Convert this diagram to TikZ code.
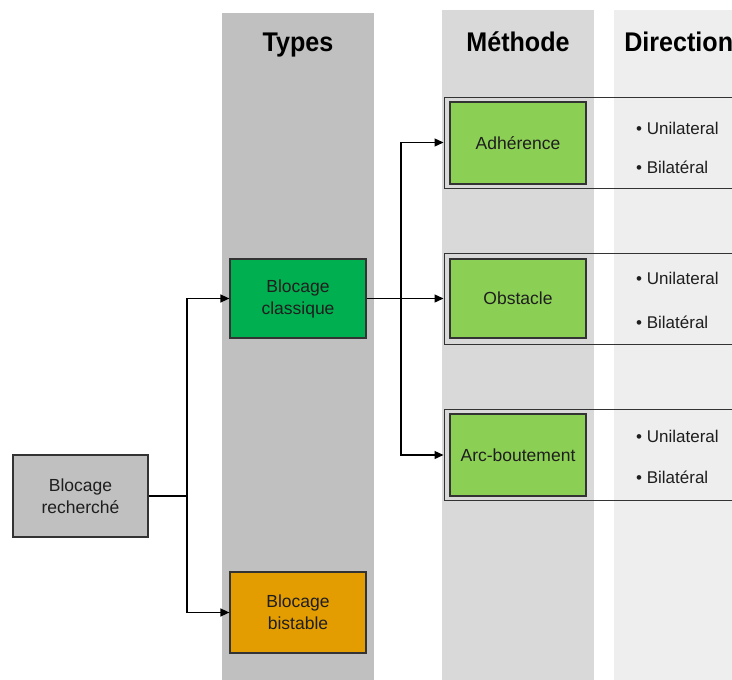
\documentclass[tikz,border=0pt]{standalone}
\usepackage{fontspec}
\setmainfont{Liberation Sans}
\usetikzlibrary{arrows.meta}
\definecolor{colT}{HTML}{C0C0C0}
\definecolor{colM}{HTML}{D9D9D9}
\definecolor{colD}{HTML}{EEEEEE}
\definecolor{grayBox}{HTML}{C0C0C0}
\definecolor{greenDark}{HTML}{00B050}
\definecolor{greenLight}{HTML}{8CCF55}
\definecolor{orangeBox}{HTML}{E49D00}
\definecolor{lineCol}{HTML}{333333}
\definecolor{txtCol}{HTML}{1E1E1E}
\begin{document}
\begin{tikzpicture}[x=1pt,y=-1pt,
  box/.style={draw=lineCol, line width=1.2pt, minimum width=136pt, minimum height=81pt,
    align=center, inner sep=2pt, text=txtCol, font=\fontsize{17.5}{22}\selectfont},
  frame/.style={draw=lineCol, line width=1pt, minimum width=300pt, minimum height=91pt, inner sep=0pt},
  header/.style={font=\fontsize{27}{30}\selectfont\bfseries, text=black, anchor=base, xscale=0.93},
  item/.style={anchor=base west, text=txtCol, font=\fontsize{17}{20}\selectfont, inner sep=0pt},
  conn/.style={draw=black, line width=1.3pt},
  arr/.style={conn, -{Triangle[length=9pt,width=8pt]}}
]
\useasboundingbox (0,0) rectangle (732,680);
\clip (0,0) rectangle (732,680);
% column backgrounds
\fill[colT] (222,13) rectangle (374,680);
\fill[colM] (442,10) rectangle (594,680);
\fill[colD] (614,10) rectangle (740,680);
% headers
\node[header] (hT) at (298,52) {Types};
\node[header] (hM) at (518,52) {Méthode};
\node[header, anchor=base west] (hD) at (621,52) {Direction};
% group frames
\node[frame] (f1) at (594,142.5) {};
\node[frame] (f2) at (594,298.5) {};
\node[frame] (f3) at (594,455) {};
% boxes
\node[box, fill=grayBox, minimum width=135pt, minimum height=82pt] (rech) at (80.5,496) {Blocage\\recherché};
\node[box, fill=greenDark, minimum height=79pt] (cls) at (298,298.5) {Blocage\\classique};
\node[box, fill=orangeBox] (bis) at (298,612.5) {Blocage\\bistable};
\node[box, fill=greenLight, minimum height=82pt] (adh) at (518,143) {Adhérence};
\node[box, fill=greenLight, minimum height=79pt] (obs) at (518,298.5) {Obstacle};
\node[box, fill=greenLight, minimum height=82pt] (arc) at (518,455) {Arc-boutement};
% direction items
\node[item] (u1) at (636,134) {\textbullet\ Unilateral};
\node[item] (b1) at (636,173) {\textbullet\ Bilatéral};
\node[item] (u2) at (636,284) {\textbullet\ Unilateral};
\node[item] (b2) at (636,328) {\textbullet\ Bilatéral};
\node[item] (u3) at (636,442) {\textbullet\ Unilateral};
\node[item] (b3) at (636,483) {\textbullet\ Bilatéral};
% connectors
\coordinate (j1) at (187,496);
\coordinate (j2) at (401,298.5);
\draw[arr] (rech.east) -- (j1) |- (cls.west);
\draw[arr] (j1) |- (bis.west);
\draw[arr] (cls.east) -- (f2.west);
\draw[arr] (j2) |- (f1.west);
\draw[arr] (j2) |- (f3.west);
\end{tikzpicture}
\end{document}
